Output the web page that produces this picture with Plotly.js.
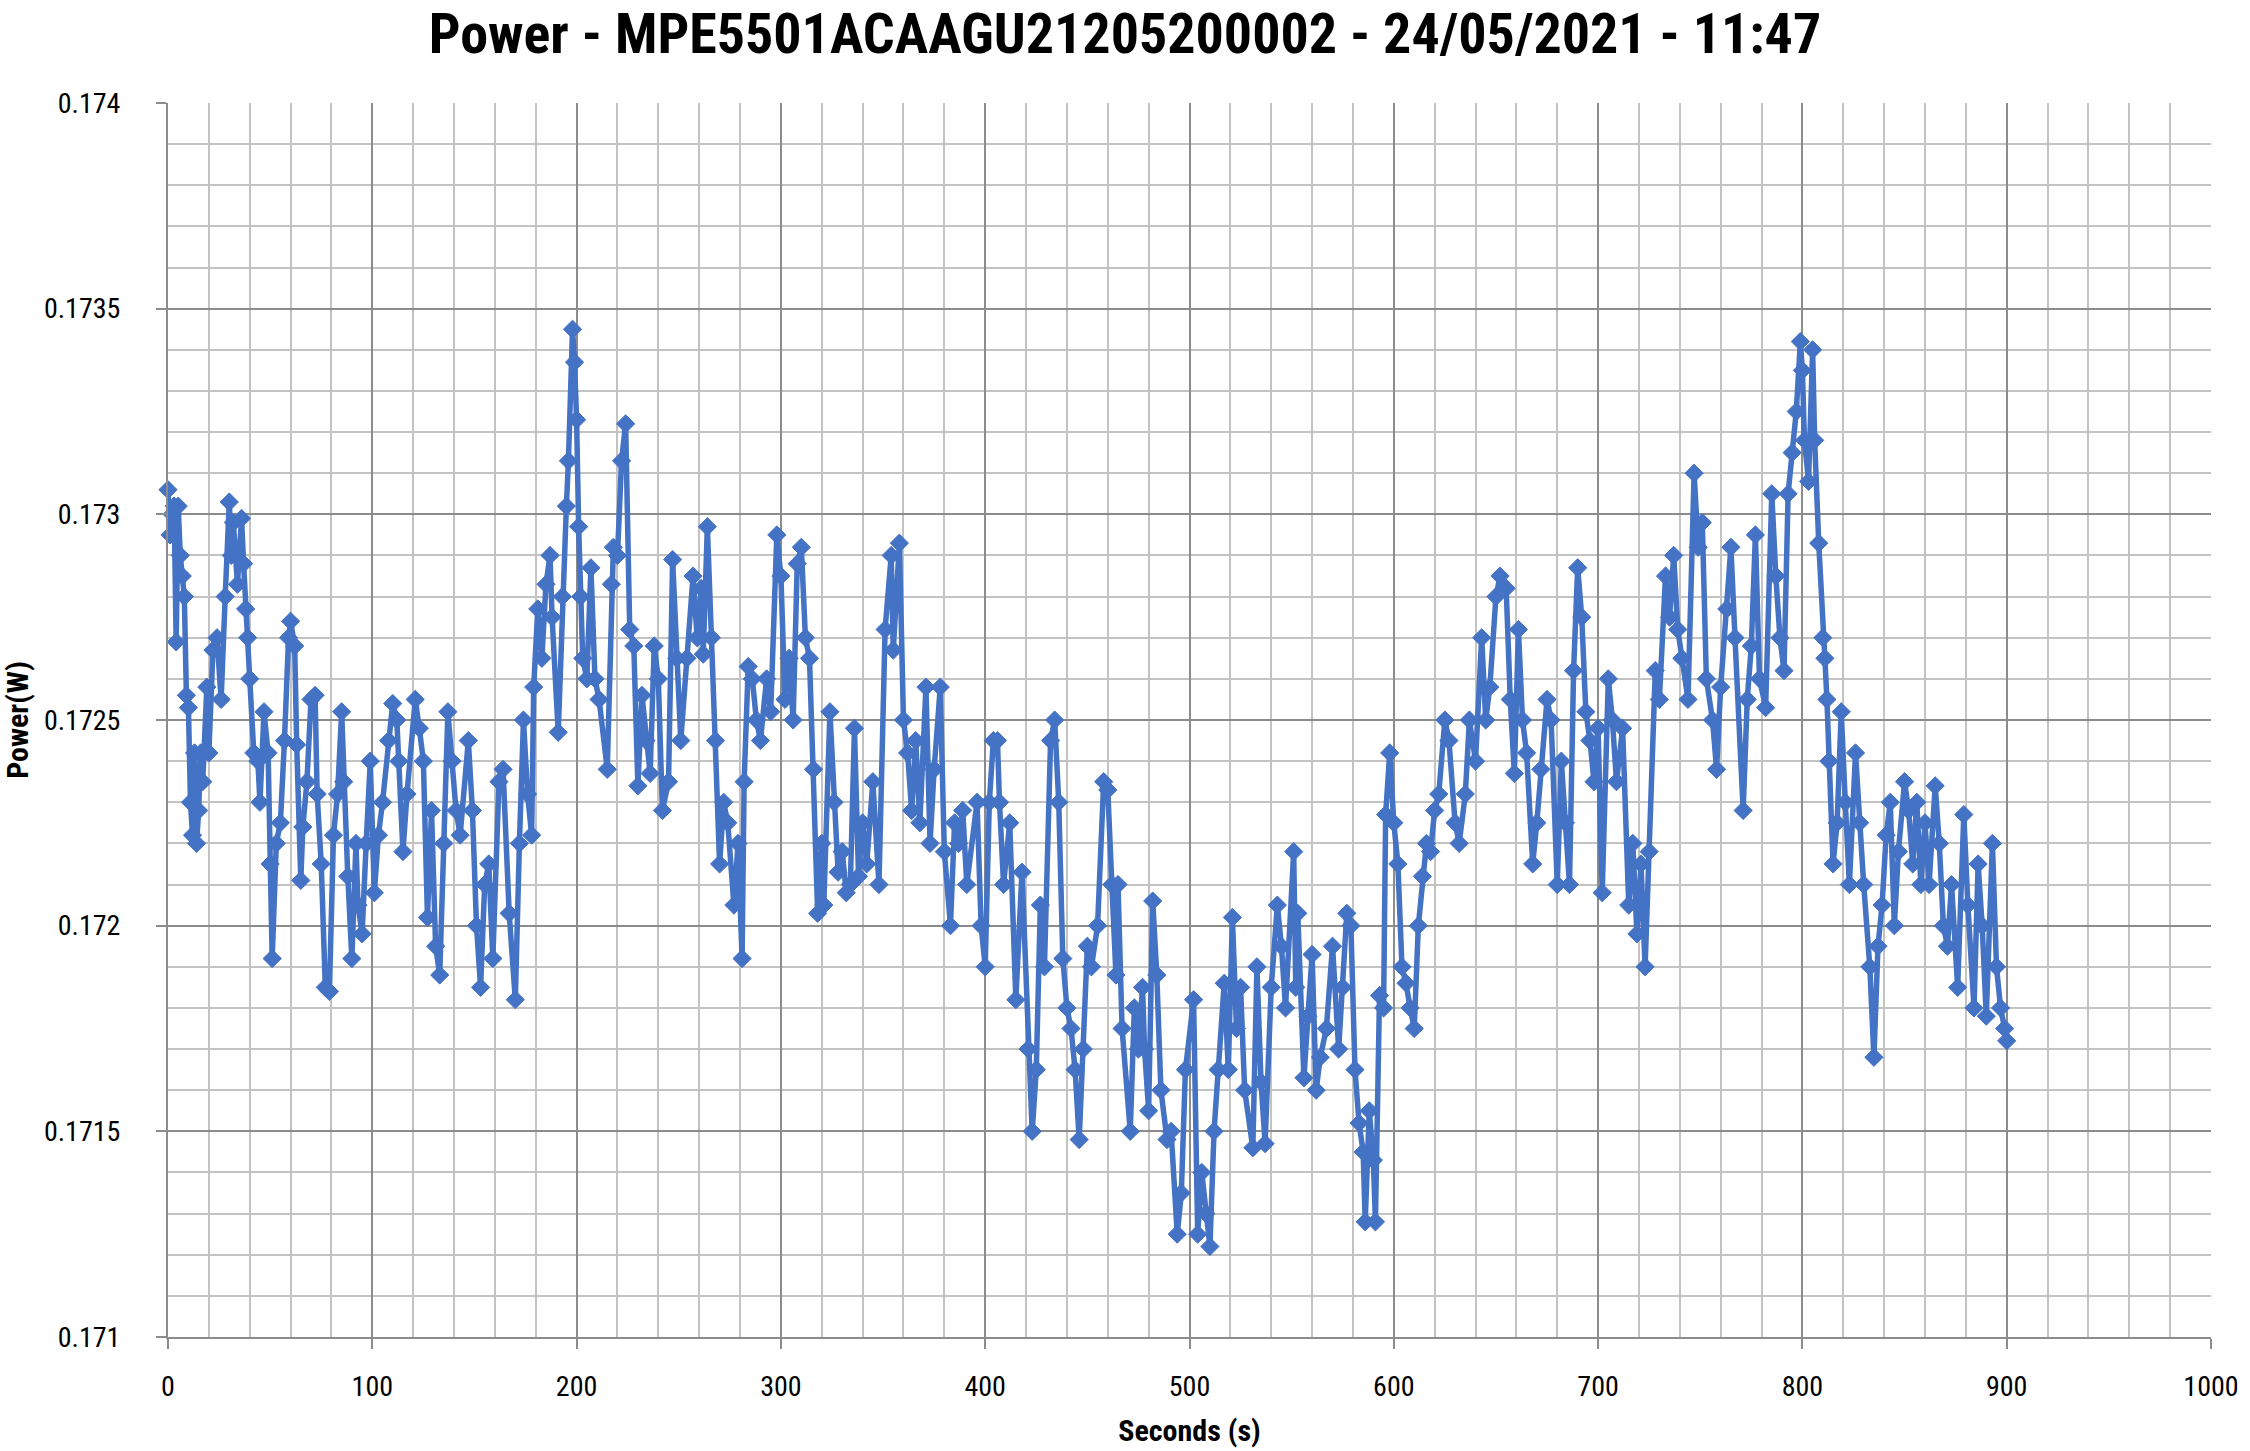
<!DOCTYPE html>
<html>
<head>
<meta charset="utf-8">
<script src="https://cdn.plot.ly/plotly-3.0.1.min.js"></script>
<style>
  html, body { margin: 0; padding: 0; background: #ffffff; }
  #chart { width: 2250px; height: 1451px; }
</style>
</head>
<body>
<div id="chart"></div>
<script>
const chartTitle = "Power - MPE5501ACAAGU21205200002 - 24/05/2021 - 11:47";
const xAxisTitle = "Seconds (s)";
const yAxisTitle = "Power(W)";

const seconds = [
  0,1,2,3,4,5,6,7,8,9,10,11,12,13,14,15,16,17,19,20,22,24,26,28,30,31,32,34,36,37,38,39,40,42,44,45,47,49,50,51,
  53,55,57,59,60,62,63,65,66,68,70,72,73,75,77,79,81,83,85,86,88,90,92,93,95,97,99,101,103,105,108,110,112,113,115,117,
  121,123,125,127,129,131,133,135,137,139,141,143,147,149,151,153,155,157,159,162,164,167,170,172,174,176,178,179,
  181,183,185,187,188,191,193,195,196,198,199,200,201,202,203,205,207,209,211,215,217,218,220,222,224,226,228,230,
  232,234,236,238,240,242,245,247,249,251,254,257,259,261,262,264,266,268,270,272,274,277,279,281,282,284,286,288,
  290,293,295,298,300,302,304,306,308,310,312,314,316,318,320,321,324,326,328,330,332,334,336,338,340,342,345,348,
  351,354,355,358,360,362,364,366,368,371,373,375,378,380,383,385,387,389,391,396,398,400,402,404,406,407,409,412,
  415,418,421,423,425,427,429,432,434,436,438,440,442,444,446,448,450,452,455,458,460,462,464,465,467,471,473,475,
  477,478,480,482,484,486,489,491,494,496,498,502,504,506,508,510,512,514,517,519,521,523,525,527,531,533,535,537,
  540,543,545,547,551,552,553,556,558,560,562,564,567,570,573,575,577,579,581,583,585,586,588,590,591,593,595,596,
  598,600,602,604,606,608,610,612,614,616,618,620,622,625,627,630,632,635,637,640,643,645,647,650,652,655,657,659,
  661,663,665,668,670,672,675,677,680,682,684,686,688,690,692,694,696,698,700,702,705,707,709,712,715,717,719,721,
  723,725,728,730,733,735,737,739,741,744,747,749,751,753,756,758,760,763,765,767,771,773,775,777,779,782,785,787,
  789,791,793,795,797,799,800,801,803,805,806,808,810,811,812,813,815,817,819,821,823,826,828,830,833,835,837,839,
  841,843,845,847,850,852,854,856,858,860,862,865,867,869,871,873,876,879,881,884,886,888,890,893,895,897,899,900
];

const power = [
  0.17306,0.17295,0.17300,0.17302,0.17269,0.17302,0.17290,0.17285,0.17280,0.17256,0.17253,0.17230,0.17222,0.17242,0.17220,0.17228,0.17242,0.17235,0.17258,0.17242,0.17267,0.17270,0.17255,0.17280,0.17303,0.17290,0.17298,0.17283,0.17299,0.17288,0.17277,0.17270,0.17260,0.17242,0.17240,0.17230,0.17252,0.17242,0.17215,0.17192,
  0.17220,0.17225,0.17245,0.17270,0.17274,0.17268,0.17244,0.17211,0.17224,0.17235,0.17255,0.17256,0.17232,0.17215,0.17185,0.17184,0.17222,0.17232,0.17252,0.17235,0.17212,0.17192,0.17220,0.17205,0.17198,0.17220,0.17240,0.17208,0.17222,0.17230,0.17245,0.17254,0.17250,0.17240,0.17218,0.17232,
  0.17255,0.17248,0.17240,0.17202,0.17228,0.17195,0.17188,0.17220,0.17252,0.17240,0.17228,0.17222,0.17245,0.17228,0.17200,0.17185,0.17210,0.17215,0.17192,0.17235,0.17238,0.17203,0.17182,0.17220,0.17250,0.17232,0.17222,0.17258,
  0.17277,0.17265,0.17283,0.17290,0.17275,0.17247,0.17280,0.17302,0.17313,0.17345,0.17337,0.17323,0.17297,0.17280,0.17265,0.17260,0.17287,0.17260,0.17255,0.17238,0.17283,0.17292,0.17290,0.17313,0.17322,0.17272,0.17268,0.17234,
  0.17256,0.17245,0.17237,0.17268,0.17260,0.17228,0.17235,0.17289,0.17265,0.17245,0.17265,0.17285,0.17270,0.17282,0.17266,0.17297,0.17270,0.17245,0.17215,0.17230,0.17225,0.17205,0.17220,0.17192,0.17235,0.17263,0.17260,0.17250,
  0.17245,0.17260,0.17252,0.17295,0.17285,0.17255,0.17265,0.17250,0.17288,0.17292,0.17270,0.17265,0.17238,0.17203,0.17220,0.17205,0.17252,0.17230,0.17213,0.17218,0.17208,0.17210,0.17248,0.17212,0.17225,0.17215,0.17235,0.17210,
  0.17272,0.17290,0.17267,0.17293,0.17250,0.17242,0.17228,0.17245,0.17225,0.17258,0.17220,0.17238,0.17258,0.17218,0.17200,0.17225,0.17220,0.17228,0.17210,0.17230,0.17200,0.17190,0.17230,0.17245,0.17245,0.17230,0.17210,0.17225,
  0.17182,0.17213,0.17170,0.17150,0.17165,0.17205,0.17190,0.17245,0.17250,0.17230,0.17192,0.17180,0.17175,0.17165,0.17148,0.17170,0.17195,0.17190,0.17200,0.17235,0.17233,0.17210,0.17188,0.17210,0.17175,0.17150,0.17180,0.17170,
  0.17185,0.17170,0.17155,0.17206,0.17188,0.17160,0.17148,0.17150,0.17125,0.17135,0.17165,0.17182,0.17125,0.17140,0.17130,0.17122,0.17150,0.17165,0.17186,0.17165,0.17202,0.17175,0.17185,0.17160,0.17146,0.17190,0.17162,0.17147,
  0.17185,0.17205,0.17195,0.17180,0.17218,0.17185,0.17203,0.17163,0.17178,0.17193,0.17160,0.17168,0.17175,0.17195,0.17170,0.17185,0.17203,0.17200,0.17165,0.17152,0.17145,0.17128,0.17155,0.17143,0.17128,0.17183,0.17180,0.17227,
  0.17242,0.17225,0.17215,0.17190,0.17186,0.17180,0.17175,0.17200,0.17212,0.17220,0.17218,0.17228,0.17232,0.17250,0.17245,0.17225,0.17220,0.17232,0.17250,0.17240,0.17270,0.17250,0.17258,0.17280,0.17285,0.17282,0.17255,0.17237,
  0.17272,0.17250,0.17242,0.17215,0.17225,0.17238,0.17255,0.17250,0.17210,0.17240,0.17225,0.17210,0.17262,0.17287,0.17275,0.17252,0.17245,0.17235,0.17248,0.17208,0.17260,0.17250,0.17235,0.17248,0.17205,0.17220,0.17198,0.17215,
  0.17190,0.17218,0.17262,0.17255,0.17285,0.17275,0.17290,0.17272,0.17265,0.17255,0.17310,0.17292,0.17298,0.17260,0.17250,0.17238,0.17258,0.17277,0.17292,0.17270,0.17228,0.17255,0.17268,0.17295,0.17260,0.17253,0.17305,0.17285,
  0.17270,0.17262,0.17305,0.17315,0.17325,0.17342,0.17335,0.17318,0.17308,0.17340,0.17318,0.17293,0.17270,0.17265,0.17255,0.17240,0.17215,0.17225,0.17252,0.17230,0.17210,0.17242,0.17225,0.17210,0.17190,0.17168,0.17195,0.17205,
  0.17222,0.17230,0.17200,0.17218,0.17235,0.17228,0.17215,0.17230,0.17210,0.17225,0.17210,0.17234,0.17220,0.17200,0.17195,0.17210,0.17185,0.17227,0.17205,0.17180,0.17215,0.17200,0.17178,0.17220,0.17190,0.17180,0.17175,0.17172
];

const blue = "#4472C4";
const fontFamily = "'Liberation Sans Narrow', 'Arial Narrow', 'Roboto Condensed', Lato, sans-serif";

const trace = {
  x: seconds,
  y: power,
  type: "scatter",
  mode: "lines+markers",
  line: { color: blue, width: 5.5 },
  marker: { symbol: "diamond", size: 14, color: blue, line: { color: blue, width: 1 } },
  cliponaxis: false,
  hoverinfo: "x+y"
};

const layout = {
  width: 2250,
  height: 1451,
  paper_bgcolor: "#ffffff",
  plot_bgcolor: "#ffffff",
  showlegend: false,
  margin: { l: 168, r: 39, t: 103, b: 114, pad: 0 },
  font: { family: fontFamily, color: "#000000", size: 28 },
  title: {
    text: "<b>" + chartTitle + "</b>",
    font: { family: fontFamily, size: 56, color: "#000000" },
    x: 0.5, xref: "container", xanchor: "center",
    y: 0.977, yref: "container", yanchor: "middle"
  },
  xaxis: {
    range: [0, 1000],
    tick0: 0, dtick: 100,
    showgrid: true, gridcolor: "#8c8c8c", gridwidth: 2,
    minor: { dtick: 20, showgrid: true, gridcolor: "#c3c3c3", gridwidth: 2, ticks: "" },
    showline: true, linecolor: "#8c8c8c", linewidth: 2,
    ticks: "outside", ticklen: 10, tickwidth: 2, tickcolor: "#8c8c8c",
    ticklabelstandoff: 13,
    zeroline: false,
    tickfont: { family: fontFamily, size: 28, color: "#000000" },
    title: { text: "<b>" + xAxisTitle + "</b>", font: { family: fontFamily, size: 30, color: "#000000" }, standoff: 18 }
  },
  yaxis: {
    range: [0.171, 0.174],
    tick0: 0.171, dtick: 0.0005,
    tickformat: ".4~f",
    showgrid: true, gridcolor: "#8c8c8c", gridwidth: 2,
    minor: { dtick: 0.0001, showgrid: true, gridcolor: "#c3c3c3", gridwidth: 2, ticks: "" },
    showline: true, linecolor: "#8c8c8c", linewidth: 2,
    ticks: "outside", ticklen: 10, tickwidth: 2, tickcolor: "#8c8c8c",
    ticklabelstandoff: 30,
    zeroline: false,
    tickfont: { family: fontFamily, size: 28, color: "#000000" },
    title: { text: "<b>" + yAxisTitle + "</b>", font: { family: fontFamily, size: 30, color: "#000000" }, standoff: 16 }
  }
};

Plotly.newPlot("chart", [trace], layout, { staticPlot: true, displayModeBar: false });
</script>
</body>
</html>
